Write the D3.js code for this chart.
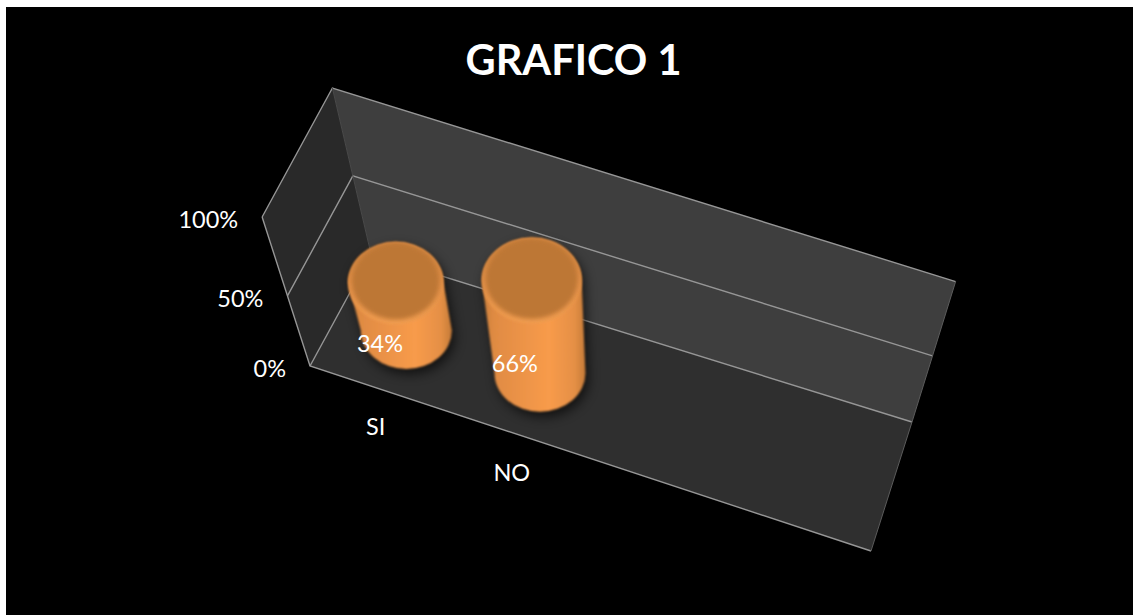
<!DOCTYPE html>
<html>
<head>
<meta charset="utf-8">
<script src="https://cdn.jsdelivr.net/npm/d3@7"></script>
<style>
	html, body { margin: 0; padding: 0; background: #fff; overflow: hidden; }
	text { font-family: Lato, "Open Sans", sans-serif; fill: #fff; }
</style>
</head>
<body>
<div id="chart-area"></div>
<script>

var categories = ["SI", "NO"];
var values = [0.34, 0.66];
var valueLabels = ["34%", "66%"];
var slots = [0, 1, 2, 3];
var tickValues = [0, 0.5, 1];
var tickLabels = ["0%", "50%", "100%"];
var chartTitle = "GRAFICO 1";

var width = 1133,
	height = 615;

var svg = d3.select("#chart-area").append("svg")
	.attr("width", width)
	.attr("height", height)
	.style("display", "block");

svg.append("rect")
	.attr("x", 6).attr("y", 7)
	.attr("width", width - 6).attr("height", height - 7)
	.attr("fill", "#000");

// floor of the 3d box on screen, the value axis goes away from a vanishing point below it
var floorFrontX = d3.scaleLinear().domain([0, 1]).range([310, 871]);
var floorFrontY = d3.scaleLinear().domain([0, 1]).range([366, 551]);
var floorBackX = d3.scaleLinear().domain([0, 1]).range([371, 912]);
var floorBackY = d3.scaleLinear().domain([0, 1]).range([254, 422]);
var vanish = [625, 1346];
var rise = d3.scaleLinear().domain([0, 0.5, 1]).range([0, 0.0715, 0.152]);

var xBand = d3.scaleBand().domain(slots).range([-0.00225, 0.9678]);
var barDepth = 0.505;

function project(t, depth, v) {
	var bx = d3.interpolateNumber(floorFrontX(t), floorBackX(t))(depth);
	var by = d3.interpolateNumber(floorFrontY(t), floorBackY(t))(depth);
	return [bx + (bx - vanish[0]) * rise(v), by + (by - vanish[1]) * rise(v)];
}

function wall(pts) {
	return d3.line()(pts.map(function(p) { return project(p[0], p[1], p[2]); })) + "Z";
}

var defs = svg.append("defs");

var bodyGrad = defs.append("linearGradient").attr("id", "bodyGrad");
bodyGrad.append("stop").attr("offset", "0%").attr("stop-color", "#c87d3a");
bodyGrad.append("stop").attr("offset", "12%").attr("stop-color", "#e08b43");
bodyGrad.append("stop").attr("offset", "65%").attr("stop-color", "#f89b4b");
bodyGrad.append("stop").attr("offset", "90%").attr("stop-color", "#e48f45");
bodyGrad.append("stop").attr("offset", "100%").attr("stop-color", "#c47a38");

var rimGrad = defs.append("linearGradient").attr("id", "rimGrad")
	.attr("x1", 0).attr("y1", 0).attr("x2", 0).attr("y2", 1);
rimGrad.append("stop").attr("offset", "0%").attr("stop-color", "#c67e3a");
rimGrad.append("stop").attr("offset", "50%").attr("stop-color", "#e08e46");
rimGrad.append("stop").attr("offset", "100%").attr("stop-color", "#f09c50");

defs.append("filter").attr("id", "shadowBlur")
	.attr("x", "-30%").attr("y", "-30%").attr("width", "160%").attr("height", "160%")
	.append("feGaussianBlur").attr("stdDeviation", 6);
defs.append("filter").attr("id", "edgeBlur")
	.attr("x", "-10%").attr("y", "-10%").attr("width", "120%").attr("height", "120%")
	.append("feGaussianBlur").attr("stdDeviation", 0.8);
defs.append("filter").attr("id", "rimBlur")
	.attr("x", "-10%").attr("y", "-10%").attr("width", "120%").attr("height", "120%")
	.append("feGaussianBlur").attr("stdDeviation", 2);

// walls and floor
svg.append("path").attr("d", wall([[0, 0, 0], [0, 1, 0], [0, 1, 1], [0, 0, 1]])).attr("fill", "#292929");
svg.append("path").attr("d", wall([[0, 1, 0], [1, 1, 0], [1, 1, 1], [0, 1, 1]])).attr("fill", "#3e3e3e");
svg.append("path").attr("d", wall([[0, 0, 0], [1, 0, 0], [1, 1, 0], [0, 1, 0]])).attr("fill", "#2f2f2f");

// lines of the box
tickValues.forEach(function(v) {
	svg.append("path").attr("class", "grid")
		.attr("d", d3.line()([project(0, 0, v), project(0, 1, v), project(1, 1, v)]));
});
svg.append("path").attr("class", "grid").attr("d", d3.line()([project(0, 0, 1), project(0, 0, 0), project(1, 0, 0)]));
svg.selectAll("path.grid").attr("fill", "none").attr("stroke", "#969696").attr("stroke-width", 1.4);

svg.append("path").attr("d", d3.line()([project(1, 1, 1), project(1, 1, 0), project(1, 0, 0)]))
	.attr("fill", "none").attr("stroke", "#5c5c5c").attr("stroke-width", 1);
svg.append("path").attr("d", d3.line()([project(0, 1, 1), project(0, 1, 0)]))
	.attr("fill", "none").attr("stroke", "#4a4a4a").attr("stroke-width", 1);

// cylinders
var baseRx = 45.5, baseRy = 38.5;

function cylinder(d, i) {
	var t = xBand(i) + xBand.bandwidth() / 2;
	var b = project(t, barDepth, 0);
	var c = project(t, barDepth, d);
	var s = 1 + rise(d);
	return {base: b, top: [c[0], c[1] + 1.5], rx: baseRx * s, ry: baseRy * s * 1.01};
}

function bodyPath(c) {
	return "M" + (c.top[0] - c.rx) + "," + c.top[1]
		+ "L" + (c.base[0] - baseRx) + "," + c.base[1]
		+ "A" + baseRx + "," + baseRy + " 0 0 0 " + (c.base[0] + baseRx) + "," + c.base[1]
		+ "L" + (c.top[0] + c.rx) + "," + c.top[1]
		+ "A" + c.rx + "," + c.ry + " 0 0 0 " + (c.top[0] - c.rx) + "," + c.top[1] + "Z";
}

var bars = svg.selectAll("g.bar")
	.data(values)
	.enter().append("g")
	.attr("class", "bar");

bars.each(function(d, i) {
	var c = cylinder(d, i);
	var g = d3.select(this);

	g.append("path").attr("d", bodyPath(c))
		.attr("transform", "translate(3,5)")
		.attr("fill", "#000").attr("opacity", 0.65)
		.attr("filter", "url(#shadowBlur)");

	g.append("path").attr("d", bodyPath(c))
		.attr("fill", "url(#bodyGrad)")
		.attr("filter", "url(#edgeBlur)");

	g.append("ellipse")
		.attr("cx", c.top[0]).attr("cy", c.top[1] + 1)
		.attr("rx", c.rx).attr("ry", c.ry)
		.attr("fill", "url(#rimGrad)")
		.attr("filter", "url(#edgeBlur)");

	g.append("ellipse")
		.attr("cx", c.top[0]).attr("cy", c.top[1] - 1)
		.attr("rx", c.rx - 4).attr("ry", c.ry - 3)
		.attr("fill", "#bd7736")
		.attr("filter", "url(#rimBlur)");
});

// data labels
bars.append("text")
	.attr("x", function(d, i) { var c = cylinder(d, i); return (c.base[0] + c.top[0]) / 2 - 21; })
	.attr("y", function(d, i) { var c = cylinder(d, i); return (c.base[1] + c.top[1]) / 2 + 37; })
	.attr("dy", "0.35em")
	.attr("text-anchor", "middle")
	.attr("font-size", 23.5)
	.text(function(d, i) { return valueLabels[i]; });

// value axis labels
svg.selectAll("text.tick")
	.data(tickValues)
	.enter().append("text")
	.attr("class", "tick")
	.attr("x", function(d) { return project(0, 0, d)[0] - 24; })
	.attr("y", function(d) { return project(0, 0, d)[1] + 3; })
	.attr("dy", "0.35em")
	.attr("text-anchor", "end")
	.attr("font-size", 23.5)
	.text(function(d, i) { return tickLabels[i]; });

// category labels
svg.selectAll("text.cat")
	.data(categories)
	.enter().append("text")
	.attr("class", "cat")
	.attr("x", function(d, i) { return project(xBand(i) + xBand.bandwidth() / 2, 0, 0)[0] - 1; })
	.attr("y", function(d, i) { return project(xBand(i) + xBand.bandwidth() / 2, 0, 0)[1] + 39 + i; })
	.attr("dy", "0.35em")
	.attr("text-anchor", "middle")
	.attr("font-size", 23.5)
	.text(function(d) { return d; });

svg.append("text")
	.attr("x", 573.5)
	.attr("y", 75)
	.attr("text-anchor", "middle")
	.attr("font-size", 41.5)
	.attr("font-weight", 700)
	.text(chartTitle);

</script>
</body>
</html>
